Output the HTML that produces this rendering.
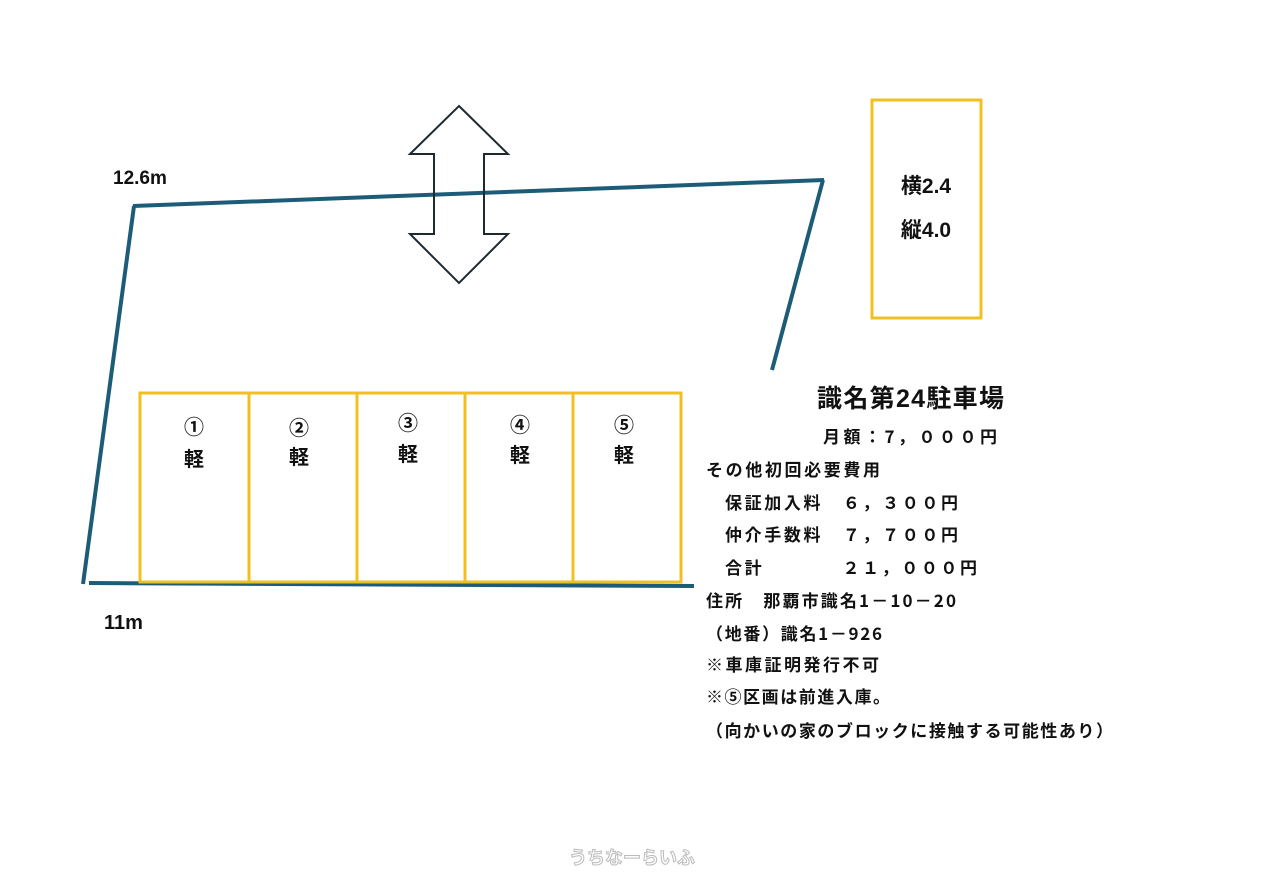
<!DOCTYPE html>
<html><head><meta charset="utf-8"><style>
html,body{margin:0;padding:0;background:#fff;}
svg{display:block;}
text{font-family:"Liberation Sans","Noto Sans CJK JP",sans-serif;font-weight:bold;fill:#111;}
.cjk text{font-family:"Noto Sans CJK JP",sans-serif;}
</style></head><body>
<svg width="1262" height="892" viewBox="0 0 1262 892" xmlns="http://www.w3.org/2000/svg">
<g stroke="#1d5c78" stroke-width="4" fill="none" stroke-linecap="butt">
<line x1="133" y1="206" x2="824" y2="180"/>
<line x1="823" y1="180" x2="772" y2="370"/>
<line x1="134" y1="206" x2="83" y2="584"/>
<line x1="89" y1="583" x2="694" y2="586"/>
</g>
<polygon points="459,106 508,154 484,154 484,234 508,234 459,283 410,234 434,234 434,154 410,154" fill="none" stroke="#1e2a30" stroke-width="2"/>
<g stroke="#f0c020" stroke-width="3" fill="none">
<rect x="872" y="100" width="109" height="218"/>
<rect x="140" y="393" width="109" height="189"/>
<rect x="249" y="393" width="108" height="189"/>
<rect x="357" y="393" width="108" height="189"/>
<rect x="465" y="393" width="108" height="189"/>
<rect x="573" y="393" width="108" height="189"/>
</g>
<text x="113" y="184" font-size="19" font-weight="normal">12.6m</text>
<text x="104" y="629" font-size="20">11m</text>
<text x="926" y="193" font-size="21" text-anchor="middle">横2.4</text>
<text x="926" y="237" font-size="21" text-anchor="middle">縦4.0</text>
<g font-size="20" text-anchor="middle">
<text x="194" y="434">①</text><text x="194" y="466">軽</text>
<text x="299" y="435">②</text><text x="299" y="464">軽</text>
<text x="408" y="430">③</text><text x="408" y="461">軽</text>
<text x="520" y="432">④</text><text x="520" y="462">軽</text>
<text x="624" y="432">⑤</text><text x="624" y="462">軽</text>
</g>
<text x="817" y="407" font-size="25" textLength="187" lengthAdjust="spacing">識名第24駐車場</text>
<g font-size="17" class="cjk">
<text x="823" y="443" textLength="174" lengthAdjust="spacing">月額：7，０００円</text>
<text x="706" y="476" textLength="174" lengthAdjust="spacing">その他初回必要費用</text>
<text x="725" y="509" textLength="233" lengthAdjust="spacing">保証加入料　６，３００円</text>
<text x="725" y="541" textLength="233" lengthAdjust="spacing">仲介手数料　７，７００円</text>
<text x="725" y="574" textLength="252" lengthAdjust="spacing">合計　　　　２１，０００円</text>
<text x="706" y="607" textLength="250" lengthAdjust="spacing">住所　那覇市識名1－10－20</text>
<text x="706" y="640" textLength="176" lengthAdjust="spacing">（地番）識名1－926</text>
<text x="706" y="671" textLength="173" lengthAdjust="spacing">※車庫証明発行不可</text>
<text x="706" y="703" textLength="184" lengthAdjust="spacing">※⑤区画は前進入庫。</text>
<text x="706" y="737" textLength="407" lengthAdjust="spacing">（向かいの家のブロックに接触する可能性あり）</text>
</g>
<text x="632" y="864" font-size="18" text-anchor="middle" style="fill:#fff;stroke:#bbb;stroke-width:1">うちなーらいふ</text>
</svg>
</body></html>
